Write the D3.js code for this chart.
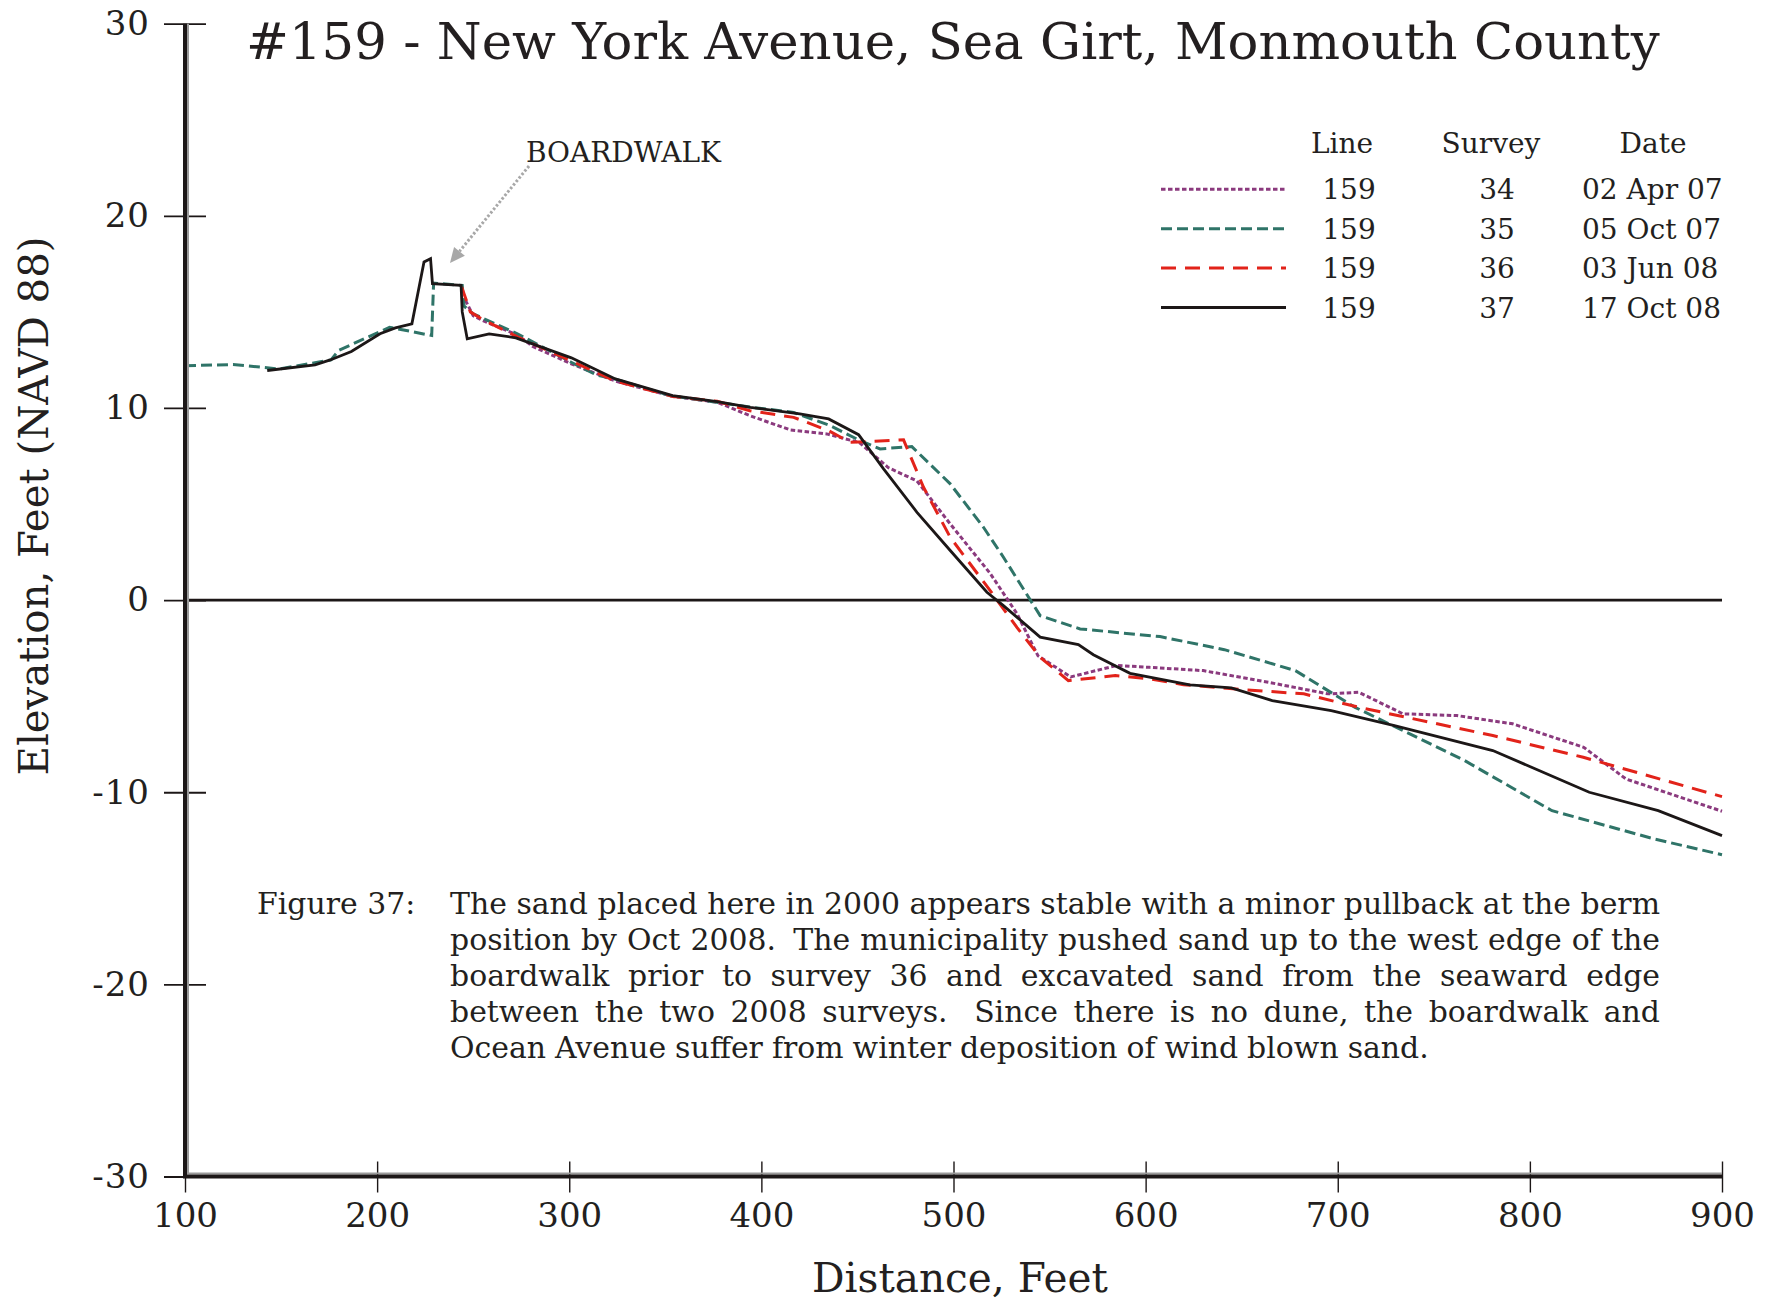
<!DOCTYPE html>
<html>
<head>
<meta charset="utf-8">
<script src="https://cdn.jsdelivr.net/npm/d3@7"></script>
<style>
  body { margin: 0; background: #fff; }
  text { font-family: 'DejaVu Serif', serif; fill: #231f20; }
</style>
</head>
<body>
<svg id="chart_svg"></svg>
<script>
var W = 1767, H = 1301;

// survey profiles, [distance ft, elevation ft]
var survey34 = [[246,15.6],[250,14.8],[255,14.55],[273,13.8],[281,13.2],[301,12.3],[324,11.4],[354,10.6],[377,10.3],[394,9.6],[415,8.86],[434,8.65],[451,8.2],[466,6.9],[481,6.2],[498,4.0],[519,1.4],[533,-0.7],[544,-2.9],[561,-4.0],[585,-3.4],[602,-3.5],[630,-3.67],[664,-4.28],[695,-4.88],[711,-4.8],[734,-5.92],[762,-6.01],[791,-6.44],[828,-7.66],[850,-9.31],[900,-10.99]];
var survey35 = [[100,12.2],[125,12.26],[149,12.03],[176,12.5],[180,13.0],[201,13.95],[206.5,14.2],[228.4,13.77],[229.4,16.5],[244.3,16.38],[245.3,15.3],[250,14.9],[273,13.86],[278,13.6],[301,12.38],[314.5,11.7],[324,11.5],[352.6,10.64],[394,10.05],[416.8,9.77],[435.8,9.08],[451.4,8.3],[461.8,7.87],[478.3,7.99],[498.3,6.05],[515.6,3.79],[526,2.23],[545.1,-0.81],[565.9,-1.5],[607.5,-1.9],[641,-2.58],[678,-3.67],[709,-5.58],[766,-8.35],[811.5,-10.96],[864.7,-12.43],[900,-13.25]];
var survey36 = [[244,16.3],[248.5,15.0],[255,14.6],[273,13.7],[301,12.45],[324,11.4],[354,10.6],[377,10.35],[394,9.86],[416.8,9.51],[435,8.82],[446.3,8.21],[474,8.34],[484.4,5.87],[498.3,3.27],[519.1,0.49],[533,-1.42],[545.1,-2.98],[559.8,-4.19],[584.2,-3.93],[602,-4.1],[619.7,-4.4],[645.4,-4.62],[682.3,-4.88],[711,-5.58],[780.7,-7.05],[827.8,-8.18],[900,-10.23]];
var survey37 = [[142.8,11.95],[167.7,12.24],[175.6,12.5],[186.6,12.94],[201.5,13.86],[209.5,14.17],[218.1,14.38],[224.4,17.6],[227.8,17.77],[228.8,16.47],[243.7,16.38],[244.3,15.0],[246.9,13.6],[258.3,13.86],[272.2,13.65],[301.1,12.61],[324,11.51],[353.8,10.64],[377,10.33],[394.2,10.03],[420,9.69],[435,9.43],[450.6,8.61],[463.6,6.83],[481,4.57],[498.3,2.58],[517.4,0.41],[526,-0.29],[545.1,-1.93],[565,-2.32],[572.8,-2.84],[591.9,-3.81],[623,-4.41],[644.6,-4.57],[665.9,-5.23],[696.6,-5.75],[729.5,-6.53],[780.7,-7.83],[830.9,-10.0],[866.8,-10.96],[900,-12.26]];

var lineIds = ['159', '159', '159', '159'];
var surveyIds = ['34', '35', '36', '37'];
var surveyDates = ['02 Apr 07', '05 Oct 07', '03 Jun 08', '17 Oct 08'];

var xTicks = [100, 200, 300, 400, 500, 600, 700, 800, 900];
var yTicks = [-30, -20, -10, 0, 10, 20, 30];

var titleText = '#159 - New York Avenue, Sea Girt, Monmouth County';
var captionLabel = 'Figure 37:';
var captionLines = [
  'The sand placed here in 2000 appears stable with a minor pullback at the berm',
  'position by Oct 2008.  The municipality pushed sand up to the west edge of the',
  'boardwalk prior to survey 36 and excavated sand from the seaward edge',
  'between the two 2008 surveys.  Since there is no dune, the boardwalk and',
  'Ocean Avenue suffer from winter deposition of wind blown sand.'
];

var series = [
  {data: survey34, color: '#8b3a7e', dash: '4.5,2.5', width: 3},
  {data: survey35, color: '#2f7468', dash: '11,5', width: 3},
  {data: survey36, color: '#e2231a', dash: '15,9', width: 3},
  {data: survey37, color: '#1c1717', dash: null, width: 2.8}
];

var svg = d3.select('#chart_svg')
  .attr('width', W)
  .attr('height', H);

var x = d3.scaleLinear().domain([100, 900]).range([185, 1722]);
var y = d3.scaleLinear().domain([-30, 30]).range([1176.5, 23.7]);

function fitWidth(sel, w) {
  var cur = sel.node().getComputedTextLength();
  var fs = parseFloat(sel.style('font-size'));
  sel.style('font-size', (fs * w / cur) + 'px');
}

// zero line
svg.append('line')
  .attr('x1', x(100)).attr('x2', x(900))
  .attr('y1', y(0)).attr('y2', y(0))
  .style('stroke', '#1c1717')
  .style('stroke-width', 2.8);

// profiles
var line = d3.line()
  .x(function(d) { return x(d[0]); })
  .y(function(d) { return y(d[1]); });

svg.selectAll('.profile')
  .data(series)
  .enter()
  .append('path')
  .attr('class', 'profile')
  .attr('d', function(d) { return line(d.data); })
  .style('fill', 'none')
  .style('stroke', function(d) { return d.color; })
  .style('stroke-width', function(d) { return d.width; })
  .style('stroke-dasharray', function(d) { return d.dash; })
  .style('stroke-linejoin', 'miter');

// axes
var yAxis = d3.axisLeft(y)
  .tickValues(yTicks)
  .tickFormat(function(d) { return String(d); })
  .tickSize(21)
  .tickPadding(14);

var yAxisGroup = svg.append('g')
  .attr('transform', 'translate(' + x(100) + ',0)')
  .call(yAxis);
yAxisGroup.select('.domain').remove();
yAxisGroup.selectAll('line')
  .attr('x1', 21)
  .style('stroke', '#1c1717')
  .style('stroke-width', 1.8);
yAxisGroup.selectAll('text')
  .attr('font-family', null)
  .style('font-size', '34px')
  .style('letter-spacing', '1px');

var xAxis = d3.axisBottom(x)
  .tickValues(xTicks)
  .tickFormat(function(d) { return String(d); })
  .tickSize(16);

var xAxisGroup = svg.append('g')
  .attr('transform', 'translate(0,' + y(-30) + ')')
  .call(xAxis);
xAxisGroup.select('.domain').remove();
xAxisGroup.selectAll('line')
  .attr('y1', -15)
  .style('stroke', '#1c1717')
  .style('stroke-width', 1.4);
xAxisGroup.selectAll('text')
  .attr('font-family', null)
  .attr('y', 50)
  .attr('dy', null)
  .style('font-size', '34px');

// thick axis lines with grey shadow
svg.append('path')
  .attr('d', 'M' + (x(100) + 3) + ',' + y(30) + 'V' + (y(-30) - 3) + 'H' + x(900))
  .style('fill', 'none')
  .style('stroke', '#9a9a9a')
  .style('stroke-width', 2);
svg.append('path')
  .attr('d', 'M' + x(100) + ',' + y(30) + 'V' + y(-30) + 'H' + x(900))
  .style('fill', 'none')
  .style('stroke', '#1c1717')
  .style('stroke-width', 4);

// title
var title = svg.append('text')
  .attr('x', 246)
  .attr('y', 59)
  .style('font-size', '50px')
  .text(titleText);
fitWidth(title, 1414);

// axis titles
var xTitle = svg.append('text')
  .attr('x', 960)
  .attr('y', 1292)
  .style('text-anchor', 'middle')
  .style('font-size', '36px')
  .text('Distance, Feet');
fitWidth(xTitle, 296);

var yTitle = svg.append('text')
  .attr('transform', 'translate(48,506) rotate(-90)')
  .style('text-anchor', 'middle')
  .style('font-size', '34px')
  .text('Elevation, Feet (NAVD 88)');
fitWidth(yTitle, 539);

// boardwalk label and arrow
var bw = svg.append('text')
  .attr('x', 526)
  .attr('y', 162)
  .style('font-size', '26px')
  .text('BOARDWALK');
fitWidth(bw, 195);

var ax0 = 529, ay0 = 166, ax1 = 450, ay1 = 263;
var ang = Math.atan2(ay1 - ay0, ax1 - ax0);
var headLen = 15, headW = 7;
var bx = ax1 - headLen * Math.cos(ang), by = ay1 - headLen * Math.sin(ang);
svg.append('line')
  .attr('x1', ax0).attr('y1', ay0)
  .attr('x2', bx).attr('y2', by)
  .style('stroke', '#a8a8a8')
  .style('stroke-width', 3)
  .style('stroke-dasharray', '2.5,2');
svg.append('path')
  .attr('d', 'M' + ax1 + ',' + ay1 +
    'L' + (bx + headW * Math.sin(ang)) + ',' + (by - headW * Math.cos(ang)) +
    'L' + (bx - headW * Math.sin(ang)) + ',' + (by + headW * Math.cos(ang)) + 'Z')
  .style('fill', '#a8a8a8');

// legend
var legend = svg.append('g');
legend.append('text').attr('x', 1342).attr('y', 153).style('text-anchor', 'middle').style('font-size', '28px').text('Line');
legend.append('text').attr('x', 1491).attr('y', 153).style('text-anchor', 'middle').style('font-size', '28px').text('Survey');
legend.append('text').attr('x', 1653).attr('y', 153).style('text-anchor', 'middle').style('font-size', '28px').text('Date');

var rows = legend.selectAll('.row')
  .data(series)
  .enter()
  .append('g')
  .attr('class', 'row')
  .attr('transform', function(d, i) { return 'translate(0,' + (189.3 + i * 39.4) + ')'; });

rows.append('line')
  .attr('x1', 1161).attr('x2', 1286)
  .style('stroke', function(d) { return d.color; })
  .style('stroke-width', function(d) { return d.width; })
  .style('stroke-dasharray', function(d) { return d.dash; });
rows.append('text')
  .attr('x', 1349).attr('y', 10)
  .style('text-anchor', 'middle')
  .style('font-size', '28px')
  .text(function(d, i) { return lineIds[i]; });
rows.append('text')
  .attr('x', 1497).attr('y', 10)
  .style('text-anchor', 'middle')
  .style('font-size', '28px')
  .text(function(d, i) { return surveyIds[i]; });
rows.append('text')
  .attr('x', 1582).attr('y', 10)
  .style('font-size', '28px')
  .text(function(d, i) { return surveyDates[i]; });

// caption, justified
var capLeft = 450, capRight = 1660, capTop = 914, capStep = 36;
var probe = svg.append('text').style('font-size', '28px').text(captionLines[0]);
var capSize = 28 * (capRight - capLeft) / probe.node().getComputedTextLength();
probe.remove();

svg.append('text')
  .attr('x', 257)
  .attr('y', capTop)
  .style('font-size', capSize + 'px')
  .text(captionLabel);

captionLines.forEach(function(str, i) {
  var t = svg.append('text')
    .attr('y', capTop + i * capStep)
    .style('font-size', capSize + 'px');
  var parts = str.split(/( +)/);
  var words = [], gaps = [];
  parts.forEach(function(p, k) {
    if (k % 2 === 0) words.push(p);
    else gaps.push(p.length > 1 ? 1.7 : 1);
  });
  var spans = words.map(function(wd) {
    return t.append('tspan').text(wd);
  });
  var widths = spans.map(function(s) { return s.node().getComputedTextLength(); });
  var total = d3.sum(widths);
  var spaceW = capSize * 0.3;
  var last = i === captionLines.length - 1;
  var unit = last ? spaceW : (capRight - capLeft - total) / d3.sum(gaps);
  var cx = capLeft;
  spans.forEach(function(s, k) {
    s.attr('x', cx);
    cx += widths[k] + (k < gaps.length ? gaps[k] * unit : 0);
  });
});
</script>
</body>
</html>
